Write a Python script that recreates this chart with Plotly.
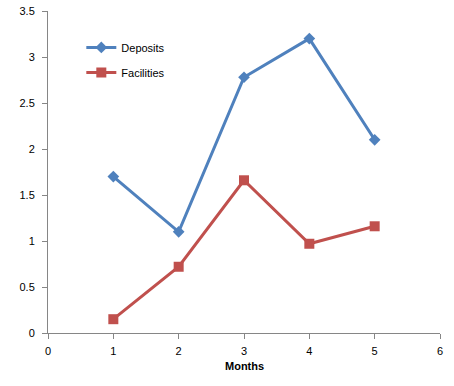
import plotly.graph_objects as go

months = [1, 2, 3, 4, 5]
deposits = [1.7, 1.1, 2.78, 3.2, 2.1]
facilities = [0.15, 0.72, 1.66, 0.97, 1.16]
x_ticks = [0, 1, 2, 3, 4, 5, 6]
y_ticks = [0, 0.5, 1, 1.5, 2, 2.5, 3, 3.5]
y_tick_labels = ["0", "0.5", "1", "1.5", "2", "2.5", "3", "3.5"]
x_title = "Months"

fig = go.Figure()
fig.add_trace(go.Scatter(x=months, y=deposits, name="Deposits", mode="lines+markers",
                         legendgroup="a",
                         line=dict(color="#4F81BD", width=3),
                         marker=dict(symbol="diamond", size=9, color="#4F81BD")))
fig.add_trace(go.Scatter(x=months, y=facilities, name="Facilities", mode="lines+markers",
                         legendgroup="b",
                         line=dict(color="#C0504D", width=3),
                         marker=dict(symbol="square", size=10, color="#C0504D")))

axis_common = dict(showgrid=False, zeroline=False, showline=True, linecolor="#868686",
                   linewidth=1, ticks="outside", tickcolor="#868686", ticklen=5,
                   automargin=False, ticklabeloverflow="allow",
                   tickfont=dict(family="Liberation Sans", size=11, color="black"))

fig.update_layout(
    width=454, height=386,
    margin=dict(l=48, r=14, t=11, b=53),
    paper_bgcolor="white", plot_bgcolor="white",
    font=dict(family="Liberation Sans", size=11, color="black"),
    xaxis=dict(range=[0, 6], tickvals=x_ticks, ticklabelstandoff=3, **axis_common),
    yaxis=dict(range=[0, 3.5], tickvals=y_ticks, ticktext=y_tick_labels,
               ticklabelstandoff=5, **axis_common),
    legend=dict(x=0.085, y=0.932, xanchor="left", yanchor="top", bgcolor="rgba(0,0,0,0)",
                tracegroupgap=6, font=dict(size=11)),
    annotations=[dict(text="<b>" + x_title + "</b>", xref="paper", yref="paper",
                      x=0.5, y=-0.1025, xanchor="center", yanchor="middle",
                      showarrow=False, font=dict(size=11, color="black"))],
)

fig.write_html("out.html", config={"displayModeBar": False},
               post_script="document.body.style.margin='0';")
